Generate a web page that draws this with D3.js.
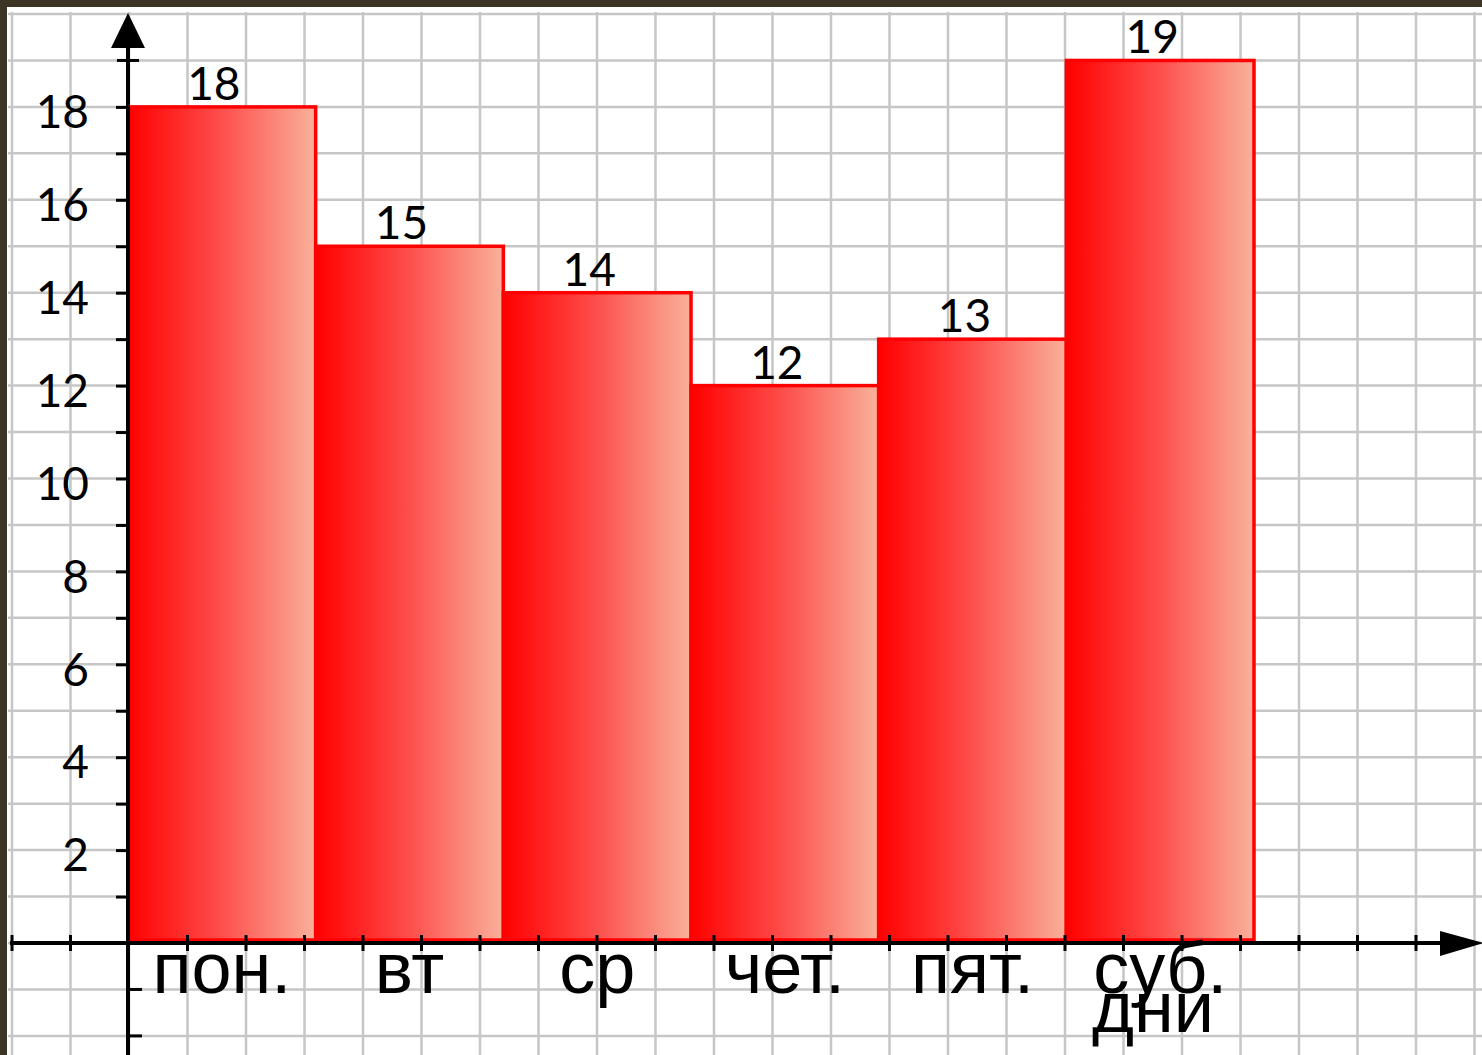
<!DOCTYPE html>
<html>
<head>
<meta charset="utf-8">
<script src="https://cdn.jsdelivr.net/npm/d3@7"></script>
<style>
  body { margin: 0; background: #fff; }
  svg { display: block; }
</style>
</head>
<body>
<script>
// data
var days = ["пон.", "вт", "ср", "чет.", "пят.", "суб."];
var counts = [18, 15, 14, 12, 13, 19];
var yTicks = [2, 4, 6, 8, 10, 12, 14, 16, 18];
var axisName = "дни";

var W = 1482, H = 1055;

var svg = d3.select("body").append("svg")
    .attr("width", W)
    .attr("height", H);

// gradient for the bars (red -> salmon, left to right)
var defs = svg.append("defs");
var grad = defs.append("linearGradient")
    .attr("id", "barGrad")
    .attr("x1", "0").attr("x2", "1").attr("y1", "0").attr("y2", "0");
grad.append("stop").attr("offset", "0").attr("stop-color", "#ff0000");
grad.append("stop").attr("offset", "0.5").attr("stop-color", "#fd4f4c");
grad.append("stop").attr("offset", "1").attr("stop-color", "#f9b19b");

// scales
var yScale = d3.scaleLinear().domain([0, 20]).range([943, 14]);
var xScale = d3.scaleBand().domain(days).range([128, 1254]).padding(0);
// grid columns (squared paper), one cell = 58.5px
var colScale = d3.scaleLinear().domain([0, 1]).range([12, 70.5]);

// squared paper grid
var grid = svg.append("g").attr("stroke", "#c6c6c6").attr("stroke-width", 2.5);
grid.selectAll(".v").data(d3.range(0, 26))
  .enter().append("line")
    .attr("x1", function(d) { return colScale(d); })
    .attr("x2", function(d) { return colScale(d); })
    .attr("y1", 12).attr("y2", H);
grid.selectAll(".h").data(d3.range(-2, 21))
  .enter().append("line")
    .attr("x1", 8).attr("x2", W)
    .attr("y1", function(d) { return yScale(d); })
    .attr("y2", function(d) { return yScale(d); });

// dark frame top and left
svg.append("rect").attr("x", 0).attr("y", 0).attr("width", W).attr("height", 7).attr("fill", "#3d3626");
svg.append("rect").attr("x", 0).attr("y", 0).attr("width", 7).attr("height", H).attr("fill", "#3d3626");

// bars
svg.selectAll(".bar").data(counts)
  .enter().append("rect")
    .attr("class", "bar")
    .attr("x", function(d, i) { return xScale(days[i]); })
    .attr("y", function(d) { return yScale(d); })
    .attr("width", xScale.bandwidth())
    .attr("height", function(d) { return yScale(0) - yScale(d) - 3; })
    .attr("fill", "url(#barGrad)")
    .attr("stroke", "#ff0000")
    .attr("stroke-width", 3.5);

// value labels
svg.selectAll(".val").data(counts)
  .enter().append("text")
    .attr("class", "val")
    .attr("x", function(d, i) { return xScale(days[i]) + xScale.bandwidth() / 2 - 8; })
    .attr("y", function(d) { return yScale(d) - 7; })
    .attr("text-anchor", "middle")
    .style("font", "46px Lato, 'Open Sans', sans-serif")
    .attr("fill", "#000")
    .text(function(d) { return d; });

// x axis line + arrow
var axes = svg.append("g").attr("stroke", "#000");
axes.append("line")
    .attr("x1", 10).attr("x2", 1445)
    .attr("y1", yScale(0)).attr("y2", yScale(0))
    .attr("stroke-width", 4);
svg.append("path")
    .attr("d", "M1440," + (yScale(0) - 12) + "L1484," + yScale(0) + "L1440," + (yScale(0) + 13) + "Z")
    .attr("fill", "#000");
// ticks on x axis at every grid column
axes.selectAll(".xt").data(d3.range(0, 25).filter(function(d) { return d !== 2; }))
  .enter().append("line")
    .attr("x1", function(d) { return colScale(d); })
    .attr("x2", function(d) { return colScale(d); })
    .attr("y1", yScale(0) - 8).attr("y2", yScale(0) + 8)
    .attr("stroke-width", 3);

// y axis line + arrow
axes.append("line")
    .attr("x1", 128).attr("x2", 128)
    .attr("y1", H).attr("y2", 45)
    .attr("stroke-width", 4);
svg.append("path")
    .attr("d", "M128,13L145,48L111,48Z")
    .attr("fill", "#000");
// small ticks below the x axis and near the top
axes.selectAll(".yneg").data([-1, -2])
  .enter().append("line")
    .attr("x1", 128).attr("x2", 142)
    .attr("y1", function(d) { return yScale(d); })
    .attr("y2", function(d) { return yScale(d); })
    .attr("stroke-width", 3);
axes.append("line")
    .attr("x1", 117).attr("x2", 139)
    .attr("y1", yScale(19)).attr("y2", yScale(19))
    .attr("stroke-width", 3);

// y axis ticks and labels
var yAxis = d3.axisLeft(yScale)
    .tickValues(d3.range(1, 19))
    .tickSize(12)
    .tickPadding(27)
    .tickFormat(function(d) { return yTicks.indexOf(d) >= 0 ? d : ""; });
var gy = svg.append("g")
    .attr("transform", "translate(128,0)")
    .call(yAxis);
gy.select(".domain").remove();
gy.selectAll(".tick line").attr("stroke", "#000").attr("stroke-width", 3);
gy.selectAll(".tick text")
    .attr("dy", "0.45em")
    .attr("fill", "#000")
    .style("font", "46px Lato, 'Open Sans', sans-serif");

// category labels
var xAxis = d3.axisBottom(xScale).tickSize(0).tickPadding(0);
var gx = svg.append("g")
    .attr("transform", "translate(0," + yScale(0) + ")")
    .call(xAxis);
gx.select(".domain").remove();
gx.selectAll(".tick text")
    .attr("y", 50)
    .attr("dy", 0)
    .attr("fill", "#000")
    .style("font", "72px 'Liberation Sans', Arial, sans-serif");

// axis name
svg.append("text")
    .attr("x", 1153)
    .attr("y", 1032)
    .attr("text-anchor", "middle")
    .style("font", "72px 'Liberation Sans', Arial, sans-serif")
    .attr("fill", "#000")
    .text(axisName);
</script>
</body>
</html>
